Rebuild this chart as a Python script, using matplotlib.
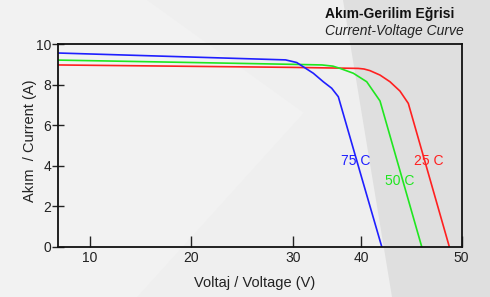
import numpy as np
import matplotlib
matplotlib.use('Agg')
import matplotlib.pyplot as plt
from matplotlib.patches import Polygon

plt.rcParams['font.family'] = ['Liberation Sans', 'DejaVu Sans']

# Datos de las curvas (V, A)
v_25 = [6.87, 30.0, 39.6, 40.3, 40.89, 41.89, 42.88, 43.87, 44.7, 48.77]
i_25 = [8.98, 8.86, 8.81, 8.78, 8.70, 8.48, 8.15, 7.69, 7.08, 0.0]
v_50 = [6.87, 30.0, 34.3, 35.9, 36.93, 38.88, 40.57, 41.89, 46.03]
i_50 = [9.22, 9.01, 8.98, 8.92, 8.81, 8.57, 8.15, 7.2, 0.0]
v_75 = [6.87, 29.3, 30.59, 31.55, 33.02, 34.48, 35.71, 36.68, 40.0, 42.06]
i_75 = [9.57, 9.23, 9.10, 8.89, 8.57, 8.15, 7.83, 7.41, 3.53, 0.0]

labels = ['25 C', '50 C', '75 C']
label_pos = [(46.77, 4.23), (43.87, 3.26), (39.27, 4.23)]
colors = ['#ff2020', '#20e620', '#1f1fff']

xticks = [10, 20, 30, 40, 50]
yticks = [0, 2, 4, 6, 8, 10]

# Escala del eje x (no uniforme entre 30 y 40, como en el original)
scale_v = [0, 10, 20, 30, 40, 50, 60]
scale_p = [-11.3, 90, 191.3, 292.7, 361, 461.7, 562.4]


def fwd(v):
    return np.interp(v, scale_v, scale_p)


def inv(p):
    return np.interp(p, scale_p, scale_v)


fig = plt.figure(figsize=(4.9, 2.97), dpi=100)
fig.patch.set_facecolor('#efefef')

# Fondo con zonas grises
fig.patches.append(Polygon([(0, 1), (0.30, 1), (0.62, 0.62), (0.28, 0), (0, 0)],
                           closed=True, transform=fig.transFigure,
                           facecolor='#f2f2f2', edgecolor='none', zorder=-3))
fig.patches.append(Polygon([(0.70, 1), (1, 1), (1, 0), (0.80, 0)],
                           closed=True, transform=fig.transFigure,
                           facecolor='#dfdfdf', edgecolor='none', zorder=-2))

ax = fig.add_axes([0.119, 0.1694, 0.8232, 0.6814])
ax.patch.set_alpha(0)
ax.set_xscale('function', functions=(fwd, inv))

for v, i, c in zip([v_25, v_50, v_75], [i_25, i_50, i_75], colors):
    ax.plot(v, i, color=c, lw=1.2)

for lab, (x, y), c in zip(labels, label_pos, colors):
    ax.text(x, y, lab, color=c, fontsize=10, ha='center', va='center')

ax.set_xlim(6.87, 50)
ax.set_ylim(0, 10)
ax.set_xticks(xticks)
ax.set_yticks(yticks)
ax.minorticks_off()
ax.tick_params(axis='x', direction='in', length=8, width=1, pad=3,
               labelsize=10, colors='#222222')
ax.tick_params(axis='y', direction='inout', length=8, width=1, pad=1,
               labelsize=10, colors='#222222')
for s in ax.spines.values():
    s.set_linewidth(1.3)
    s.set_color('#111111')

ax.set_xlabel('Voltaj / Voltage (V)', fontsize=10.5, color='#222222', va='center')
ax.set_ylabel('Akım  / Current (A)', fontsize=10.5, color='#222222', va='center')
ax.xaxis.set_label_coords(0.4876, -0.179)
ax.yaxis.set_label_coords(-0.070, 0.522)

fig.text(0.663, 0.953, 'Akım-Gerilim Eğrisi', fontsize=10, fontweight='bold',
         color='#111111', ha='left', va='center')
fig.text(0.663, 0.8956, 'Current-Voltage Curve', fontsize=10, style='italic',
         color='#222222', ha='left', va='center')

fig.savefig('out.png', dpi=100, facecolor=fig.get_facecolor())
